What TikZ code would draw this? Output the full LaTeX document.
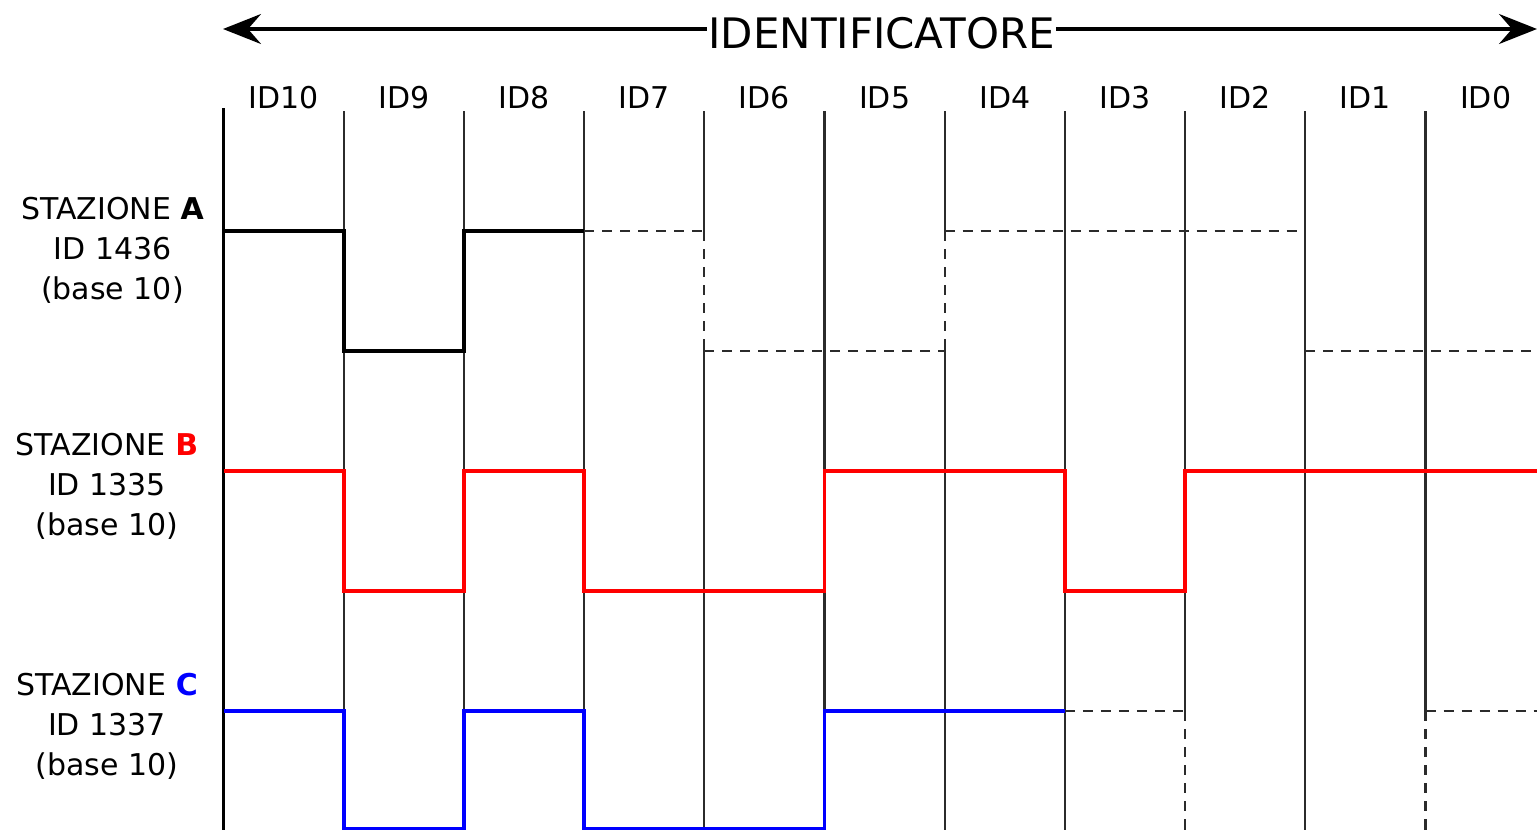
\documentclass[tikz,border=0pt]{standalone}
\usepackage{fontspec}
\setmainfont{DejaVu Sans}
\usepackage{tikz}
\usetikzlibrary{arrows.meta}
\definecolor{busRed}{HTML}{FF0000}
\definecolor{busBlue}{HTML}{0000FF}
\definecolor{busGrid}{HTML}{2B2B2B}
\tikzset{
  busArrow/.style={{Stealth[length=38pt,width=30pt,inset=13pt]}-{Stealth[length=38pt,width=30pt,inset=13pt]}, line width=3.2pt, draw=black},
  busAxis/.style={line width=3.8pt, draw=black},
  busGridLine/.style={line width=2.3pt, draw=busGrid},
  busLevel/.style={line width=3.6pt, draw=#1, line join=miter},
  busGuess/.style={line width=2.3pt, draw=busGrid, dash pattern=on 10pt off 8pt},
  busGap/.style={line width=3.5pt, draw=white},
  busBit/.style={font=\fontsize{30}{40}\selectfont, anchor=base, inner sep=0pt},
  busStation/.style={font=\fontsize{30}{40}\selectfont, align=center, inner sep=0pt},
  busTitle/.style={font=\fontsize{42}{48}\selectfont, anchor=base, fill=white, inner xsep=1pt, inner ysep=0pt}
}

\begin{document}
\begin{tikzpicture}[x=120.2pt, y=-1pt, xshift=223.5pt]
  \useasboundingbox (-1.8594,0) rectangle (10.9276,830);

  % header: field arrow and bit names
  \coordinate (fieldL) at (-0.004,29);
  \coordinate (fieldR) at (10.9276,29);
  \draw[busArrow] (fieldL) -- (fieldR);
  \node[busTitle] (field) at (5.475,48) {IDENTIFICATORE};
  \foreach \i [evaluate=\i as \n using int(10-\i)] in {0,...,10}
    \node[busBit] (bit\n) at (\i+0.5,108) {ID\n};

  % bit slots
  \draw[busAxis] (0,108) -- (0,830);
  \foreach \i in {1,...,10}
    \draw[busGridLine] (\i,111) -- (\i,830);

  % stations
  \node[busStation] (staA) at (-0.9235,250) {STAZIONE \textbf{A}\\ID 1436\\(base 10)};
  \node[busStation] (staB) at (-0.969,486) {STAZIONE \textcolor{busRed}{\textbf{B}}\\ID 1335\\(base 10)};
  \node[busStation] (staC) at (-0.969,726) {STAZIONE \textcolor{busBlue}{\textbf{C}}\\ID 1337\\(base 10)};

  % bits no longer sent after losing arbitration
  \foreach \i/\ya/\yb in {4/231/351, 6/231/351, 8/711/830, 10/711/830} {
    \draw[busGap] (\i,\ya+2) -- (\i,\yb-2);
    \draw[busGuess] (\i,\ya) -- (\i,\yb);
  }
  \draw[busGuess] (3,231) -- (4,231) (4,351) -- (6,351) (6,231) -- (9,231) (9,351) -- (10.9276,351);
  \draw[busGuess] (7,711) -- (8,711) (10,711) -- (10.9276,711);

  % levels on the bus
  \draw[busLevel=black] (0,231) -- (1,231) -- (1,351) -- (2,351) -- (2,231) -- (3,231);
  \draw[busLevel=busRed] (0,471) -- (1,471) -- (1,591) -- (2,591) -- (2,471) -- (3,471)
    -- (3,591) -- (5,591) -- (5,471) -- (7,471) -- (7,591) -- (8,591) -- (8,471) -- (10.9276,471);
  \draw[busLevel=busBlue] (0,711) -- (1,711) -- (1,828.5) -- (2,828.5) -- (2,711) -- (3,711)
    -- (3,828.5) -- (5,828.5) -- (5,711) -- (7,711);
\end{tikzpicture}
\end{document}
